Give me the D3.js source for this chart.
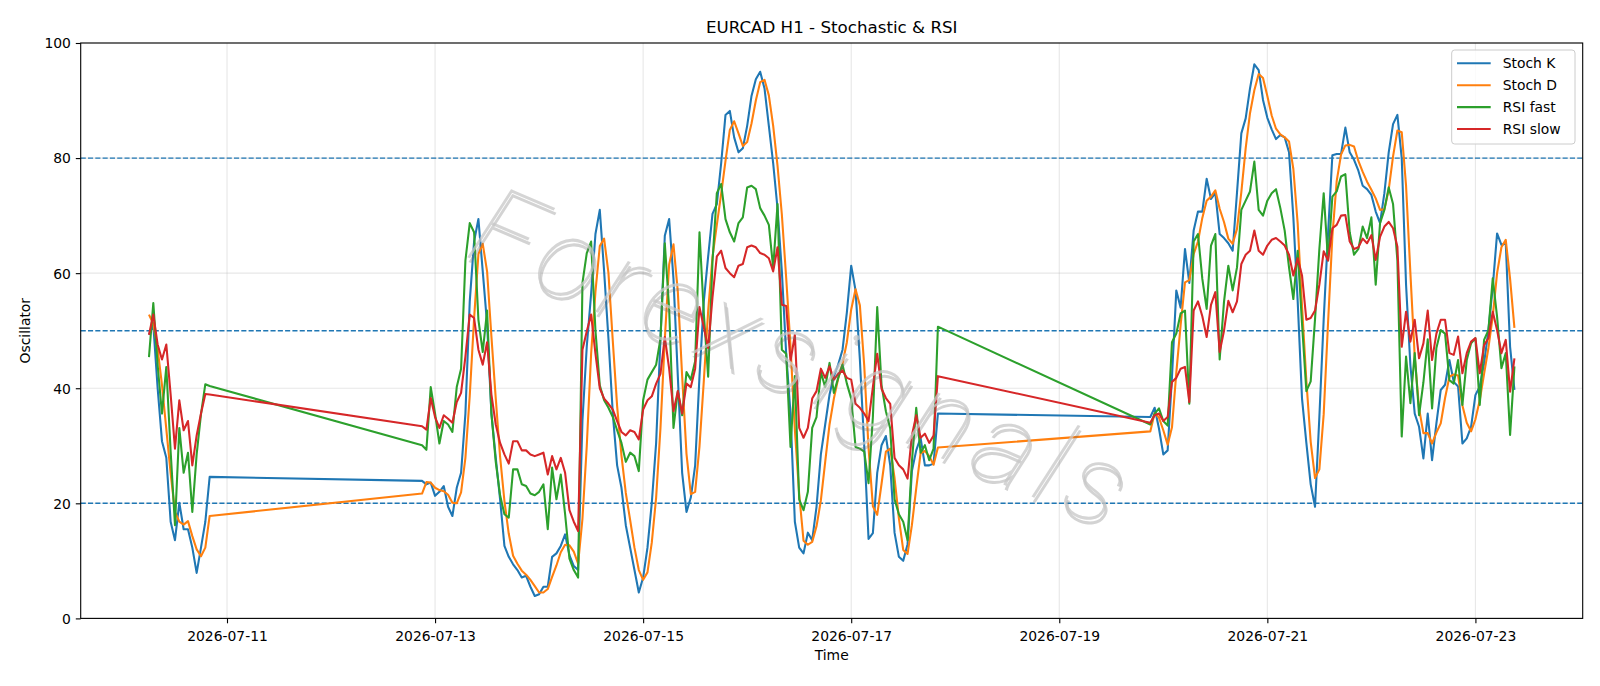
<!DOCTYPE html>
<html><head><meta charset="utf-8">
<script src="https://cdn.jsdelivr.net/npm/d3@7"></script>
<style>body{margin:0;background:#fff;} text{font-family:"DejaVu Sans",sans-serif;fill:#000;}</style>
</head><body><svg id="c" width="1600" height="686"></svg>
<script>
// trading sessions (hourly bars, weekend gaps)
const sessions = [["2026-07-10T06:00Z","2026-07-10T20:00Z"],["2026-07-12T21:00Z","2026-07-17T20:00Z"],["2026-07-19T21:00Z","2026-07-23T09:00Z"]];
const xTickLabels = ["2026-07-11","2026-07-13","2026-07-15","2026-07-17","2026-07-19","2026-07-21","2026-07-23"];
const yTicks = [0,20,40,60,80,100];
const levels = [20,50,80];

const stochK = [
49.3,51.0,40.0,30.8,27.9,16.8,13.6,20.1,15.5,15.5,12.3,7.9,12.3,16.8,24.6,
23.9,23.3,23.6,21.3,22.0,23.0,19.4,17.8,22.7,25.3,35.6,55.1,65.5,69.4,60.3,51.2,35.6,27.9,20.7,12.6,
10.7,9.4,8.4,7.1,7.4,5.5,3.9,4.2,5.5,5.5,10.7,11.3,12.6,14.6,11.0,9.1,8.4,34.4,47.3,56.4,
66.8,71.0,60.3,48.6,35.6,26.6,22.7,16.2,12.3,8.4,4.5,7.1,12.3,20.1,30.5,48.6,66.5,69.4,59.0,42.1,
25.3,18.5,21.0,26.6,42.1,55.1,62.9,70.3,72.0,79.1,87.5,88.2,83.6,81.0,81.7,85.6,90.8,93.7,95.0,92.1,
85.6,79.1,71.3,60.3,46.0,35.6,16.8,12.3,11.3,14.9,13.6,19.4,28.5,33.7,38.9,42.1,44.1,46.7,53.2,61.3,
57.0,45.0,30.0,13.8,14.8,25.3,30.1,31.7,26.6,14.9,10.7,10.0,12.9,25.6,29.2,31.4,26.6,26.6,26.9,35.6,
35.0,36.6,33.0,28.5,29.2,42.0,57.0,54.0,64.2,58.3,67.4,70.7,70.7,76.4,72.9,73.9,66.8,66.1,65.2,63.9,
74.0,84.3,86.9,92.1,96.3,95.3,90.1,87.0,85.0,83.3,84.0,83.6,81.0,69.7,55.1,38.2,30.5,23.3,19.4,35.0,
52.0,66.8,80.5,80.7,80.7,85.3,81.0,79.7,77.8,75.2,74.6,73.6,70.7,68.7,73.9,81.0,85.9,87.5,80.0,58.0,
44.0,35.6,33.3,27.8,35.6,27.5,33.9,39.7,40.6,44.9,41.1,40.3,30.4,31.3,33.3,38.8,40.3,44.3,50.1,57.6,
66.9,64.9,65.2,47.2,39.7];

const stochD = [
52.8,51.2,46.8,40.6,32.9,25.2,18.5,16.8,16.3,16.9,14.3,12.0,10.8,12.3,17.8,
21.7,23.7,23.6,22.7,22.3,22.1,21.5,20.1,20.0,21.9,27.9,38.7,52.1,63.3,65.1,60.3,49.0,38.2,28.1,20.4,
14.7,10.9,9.5,8.3,7.6,6.7,5.6,4.5,4.5,5.1,7.2,9.2,11.5,12.8,12.7,11.6,9.5,17.3,30.0,46.0,
56.8,64.7,66.0,60.0,48.2,36.9,28.3,21.8,17.1,12.3,8.4,6.7,8.0,13.2,21.0,33.1,48.5,61.5,65.0,56.8,
42.1,28.6,21.6,22.0,29.9,41.3,53.4,62.8,68.4,73.8,79.5,84.9,86.4,84.3,82.1,82.8,86.0,90.0,93.2,93.6,
90.9,85.6,78.7,70.2,59.2,47.3,32.8,21.6,13.5,12.8,13.3,16.0,20.5,27.2,33.7,38.2,41.7,44.3,48.0,53.7,
57.2,54.4,44.0,29.6,19.5,18.0,23.4,29.0,29.5,24.4,17.4,11.9,11.2,16.2,22.6,28.7,29.1,28.2,26.7,29.7,
32.5,35.7,34.9,32.7,30.2,33.2,42.7,51.0,58.4,58.8,63.3,65.5,69.6,72.6,73.3,74.4,71.2,68.9,66.0,65.1,
67.7,74.1,81.7,87.8,91.8,94.6,93.9,90.8,87.4,85.1,84.1,83.6,82.9,78.1,68.6,54.3,41.3,30.7,24.4,25.9,
35.5,51.3,66.4,76.0,80.6,82.2,82.3,82.0,79.5,77.6,75.9,74.5,73.0,71.0,71.1,74.5,80.3,84.8,84.5,75.2,
60.0,45.5,36.5,32.2,32.2,30.4,32.3,33.9,38.3,42.0,42.4,42.2,37.0,34.0,32.5,34.6,37.9,42.5,47.0,52.5,
60.0,64.5,65.8,59.0,50.5];

const rsiFast = [
45.4,54.8,44.0,35.6,43.7,29.0,16.2,33.1,25.3,28.8,18.5,28.5,35.5,40.7,40.4,
30.1,29.3,40.2,35.6,30.4,34.3,33.7,32.4,40.2,43.4,62.2,68.7,67.1,51.9,46.3,53.5,35.6,27.2,21.4,18.1,
17.5,25.9,25.9,23.3,23.0,21.7,21.4,22.0,23.3,15.5,26.2,20.7,25.0,18.1,10.4,8.4,7.1,58.3,63.5,65.5,
50.0,40.5,37.9,36.6,35.0,32.7,30.5,27.2,28.8,28.2,25.6,37.9,41.5,42.8,44.1,48.6,65.2,53.8,33.1,39.5,
35.3,42.8,41.5,44.7,67.1,53.0,42.0,62.0,73.9,75.5,69.4,67.1,65.5,68.7,69.7,74.9,75.2,74.6,71.3,70.0,
68.4,60.9,72.0,46.7,46.0,29.8,42.1,20.7,18.8,22.0,33.1,35.0,42.8,40.2,44.4,39.2,41.8,44.1,40.8,38.2,
29.8,29.5,29.0,23.5,35.0,54.1,40.5,36.0,33.0,20.7,18.1,16.8,13.6,27.2,36.6,28.8,30.1,27.5,29.5,50.7,
33.7,35.6,36.5,34.3,33.5,48.0,49.5,53.0,53.5,37.3,65.5,66.8,59.0,53.8,64.8,66.8,45.0,55.0,61.3,57.0,
61.0,71.0,72.6,74.2,79.4,71.0,70.0,72.6,73.9,74.6,71.3,67.4,61.0,55.5,63.9,51.2,39.5,41.2,52.0,64.2,
73.9,62.2,73.3,74.2,76.8,77.2,67.1,63.2,64.2,68.1,66.1,69.7,58.0,68.7,71.0,74.9,72.0,62.2,31.6,45.5,
37.4,46.1,35.3,41.0,48.5,36.5,47.0,50.1,49.5,41.4,40.8,44.9,37.1,44.9,47.8,48.7,37.1,48.4,50.1,59.1,
52.4,43.5,46.1,31.9,43.8];

const rsiSlow = [
49.3,52.8,47.6,45.0,47.6,38.9,29.5,37.9,32.7,34.3,26.6,31.8,35.6,39.0,38.9,
33.4,32.8,38.3,35.0,33.1,35.3,34.7,34.0,37.6,39.2,45.5,52.8,52.2,46.7,44.1,48.0,38.9,33.7,30.5,28.5,
26.9,30.8,30.8,29.2,29.2,28.5,28.2,28.5,28.8,25.0,28.2,25.9,27.9,25.3,18.8,16.8,15.2,46.7,49.9,52.8,
46.0,40.0,38.2,37.3,36.3,34.3,32.4,31.8,32.7,32.4,31.1,36.3,37.9,38.6,40.8,42.5,48.9,43.4,36.0,39.5,
35.6,40.8,40.2,43.4,54.1,50.6,47.0,55.8,62.9,63.9,60.9,60.0,59.3,61.3,61.6,64.5,64.8,64.5,63.5,63.2,
62.6,60.3,64.5,54.5,54.3,44.7,49.3,33.1,31.4,33.1,38.2,39.5,43.4,41.8,43.8,41.5,42.5,43.1,41.8,41.5,
37.3,36.6,35.6,34.3,40.2,46.0,39.9,38.3,37.3,27.9,26.6,25.9,24.3,31.8,35.3,31.4,32.1,30.5,31.8,42.1,
34.0,35.3,35.6,34.3,35.0,41.1,41.8,43.4,43.7,37.6,53.5,55.1,52.5,48.9,54.5,56.7,46.3,50.0,55.2,53.2,
55.1,61.6,63.2,63.9,67.4,63.9,63.2,64.8,65.8,66.1,65.5,64.8,63.2,59.6,62.6,59.6,51.9,52.2,53.5,58.0,
63.8,62.2,67.8,68.4,70.0,70.1,65.5,64.2,64.5,66.0,65.2,66.6,62.3,66.3,68.1,68.9,67.8,64.6,47.2,53.3,
48.1,51.9,45.2,47.8,53.5,44.9,49.5,51.9,51.9,46.1,45.8,49.0,42.6,46.1,48.1,48.7,42.6,47.5,48.7,53.3,
50.1,46.1,48.4,39.4,45.2];

const series = [
  {name:"Stoch K", values:stochK, color:"#1f77b4"},
  {name:"Stoch D", values:stochD, color:"#ff7f0e"},
  {name:"RSI fast", values:rsiFast, color:"#2ca02c"},
  {name:"RSI slow", values:rsiSlow, color:"#d62728"}
];

const times = sessions.flatMap(([a,b]) => d3.utcHour.range(new Date(a), d3.utcHour.offset(new Date(b),1)));

const svg = d3.select("#c");
const L = 80.7, R = 1582.7, T = 43, B = 618.4;
const t0 = times[0], t1 = times[times.length-1];
const span = t1 - t0;
const x = d3.scaleUtc().domain([new Date(+t0 - span*0.05), new Date(+t1 + span*0.05)]).range([L, R]);
const y = d3.scaleLinear().domain([0,100]).range([B, T]);
const xTickDates = xTickLabels.map(s => new Date(s + "T00:00Z"));

// grid
const g = svg.append("g");
g.selectAll(".gx").data(xTickDates).join("line")
  .attr("x1", d=>x(d)).attr("x2", d=>x(d)).attr("y1", T).attr("y2", B)
  .attr("stroke", "#b0b0b0").attr("stroke-opacity", 0.3).attr("stroke-width", 1.1);
g.selectAll(".gy").data(yTicks).join("line")
  .attr("x1", L).attr("x2", R).attr("y1", d=>y(d)).attr("y2", d=>y(d))
  .attr("stroke", "#b0b0b0").attr("stroke-opacity", 0.3).attr("stroke-width", 1.1);

// level lines
g.selectAll(".lv").data(levels).join("line")
  .attr("x1", L).attr("x2", R).attr("y1", d=>y(d)).attr("y2", d=>y(d))
  .attr("stroke", "#1f77b4").attr("stroke-width", 1.4).attr("stroke-dasharray", "5.1,2.2");

// series
const line = d3.line().x((d,i)=>x(times[i])).y(d=>y(d));
svg.append("clipPath").attr("id","pc").append("rect").attr("x",L).attr("y",T).attr("width",R-L).attr("height",B-T);
const sg = svg.append("g").attr("clip-path","url(#pc)");
series.forEach(s => {
  sg.append("path").attr("d", line(s.values)).attr("fill","none")
    .attr("stroke", s.color).attr("stroke-width", 2.08).attr("stroke-linejoin","round").attr("stroke-linecap","butt");
});

// watermark
const wm = svg.append("g").attr("transform", "translate(785,392) rotate(23)");
const wmStyle = t => t.attr("text-anchor","middle").attr("textLength",700).attr("lengthAdjust","spacing")
  .style("font-family","Roboto, Inter, 'Open Sans', sans-serif").style("font-style","italic").style("font-weight","100")
  .style("font-size","112px").text("Forexsignals");
wm.append("text").attr("x",3).attr("y",4).call(wmStyle).style("fill","#707070").style("opacity",0.3);
wm.append("text").call(wmStyle).style("fill","#c8c8c8").style("opacity",0.75);

// frame
svg.append("rect").attr("x",L).attr("y",T).attr("width",R-L).attr("height",B-T)
  .attr("fill","none").attr("stroke","#000").attr("stroke-width",1.1);

// y axis
const ya = svg.append("g").attr("transform",`translate(${L},0)`)
  .call(d3.axisLeft(y).tickValues(yTicks).tickSize(4.9).tickPadding(4.9).tickFormat(d3.format("d")));
ya.select(".domain").remove();
ya.selectAll("line").attr("stroke","#000").attr("stroke-width",1.1);
ya.selectAll("text").style("font-size","13.9px").style("font-family","'DejaVu Sans'").attr("dy","0.35em");

// x axis
const xa = svg.append("g").attr("transform",`translate(0,${B})`)
  .call(d3.axisBottom(x).tickValues(xTickDates).tickSize(4.9).tickPadding(4.9).tickFormat((d,i)=>xTickLabels[i]));
xa.select(".domain").remove();
xa.selectAll("line").attr("stroke","#000").attr("stroke-width",1.1);
xa.selectAll("text").style("font-size","13.9px").style("font-family","'DejaVu Sans'").attr("dy","0.95em");

// labels
svg.append("text").attr("x",(L+R)/2).attr("y",32.5).attr("text-anchor","middle")
  .style("font-size","16.7px").text("EURCAD H1 - Stochastic & RSI");
svg.append("text").attr("x",(L+R)/2).attr("y",660).attr("text-anchor","middle")
  .style("font-size","13.9px").text("Time");
svg.append("text").attr("transform",`translate(30,${(T+B)/2}) rotate(-90)`).attr("text-anchor","middle")
  .style("font-size","13.9px").text("Oscillator");

// legend
const lg = svg.append("g");
lg.append("rect").attr("x",1451.7).attr("y",50).attr("width",123.3).attr("height",94).attr("rx",3)
  .attr("fill","#fff").attr("fill-opacity",0.8).attr("stroke","#cccccc").attr("stroke-width",1);
series.forEach((s,i) => {
  const yy = 63.3 + i*21.9;
  lg.append("line").attr("x1",1457).attr("x2",1490.7).attr("y1",yy).attr("y2",yy)
    .attr("stroke",s.color).attr("stroke-width",2.08);
  lg.append("text").attr("x",1502.7).attr("y",yy+5).style("font-size","13.9px").text(s.name);
});
</script></body></html>
